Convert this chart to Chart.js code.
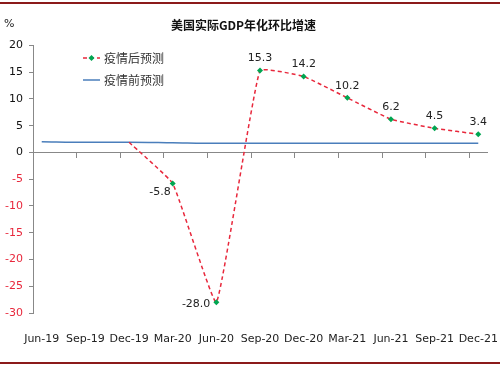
<!DOCTYPE html>
<html>
<head>
<meta charset="utf-8">
<script src="https://cdn.jsdelivr.net/npm/chart.js@4/dist/chart.umd.min.js"></script>
<style>
  body { margin: 0; background: #fff; }
  #wrap { position: relative; width: 500px; height: 367px; }
  .rule { position: absolute; left: 0; width: 500px; height: 2px; background: #8b1a1a; }
</style>
</head>
<body>
<div id="wrap">
  <canvas id="myChart" width="500" height="367"></canvas>
  <div class="rule" style="top:2px"></div>
  <div class="rule" style="top:362px"></div>
</div>
<script>
const labels = ['Jun-19', 'Sep-19', 'Dec-19', 'Mar-20', 'Jun-20', 'Sep-20', 'Dec-20', 'Mar-21', 'Jun-21', 'Sep-21', 'Dec-21'];
const afterCovid = [null, null, 1.9, -5.8, -28.0, 15.3, 14.2, 10.2, 6.2, 4.5, 3.4];
const beforeCovid = [2.0, 1.9, 1.9, 1.8, 1.7, 1.7, 1.7, 1.7, 1.7, 1.7, 1.7];
const shownLabels = [null, null, null, '-5.8', '-28.0', '15.3', '14.2', '10.2', '6.2', '4.5', '3.4'];
const yTicks = [20, 15, 10, 5, 0, -5, -10, -15, -20, -25, -30];

const RED = '#e8283c';
const BLUE = '#4a7ebb';
const GREEN = '#00a651';

const toPts = arr => arr.map((v, i) => ({ x: i, y: v })).filter(p => p.y !== null);

const ctx = document.getElementById('myChart');

const extras = {
  id: 'extras',
  afterDatasetsDraw(chart) {
    const c = chart.ctx;
    const meta = chart.getDatasetMeta(0);
    c.save();
    // value labels
    c.font = '11px "DejaVu Sans"';
    c.fillStyle = '#222';
    const pts = toPts(afterCovid);
    pts.forEach((p, k) => {
      const txt = shownLabels[p.x];
      if (!txt) return;
      const el = meta.data[k];
      c.textBaseline = 'middle';
      if (p.y < 0) {
        c.textAlign = 'right';
        if (p.y < -20) c.fillText(txt, el.x - 6, el.y + 2);
        else c.fillText(txt, el.x - 2, el.y + 9);
      } else {
        c.textAlign = 'center';
        c.fillText(txt, el.x, el.y - 12);
      }
    });
    // % unit
    c.textAlign = 'left';
    c.fillText('%', 4, 24);
    // legend
    const a = chart.chartArea;
    const lx = a.left + 50, ly1 = 58, ly2 = 80;
    c.lineWidth = 1.5;
    c.strokeStyle = RED;
    c.setLineDash([4, 3]);
    c.beginPath(); c.moveTo(lx, ly1); c.lineTo(lx + 17, ly1); c.stroke();
    c.setLineDash([]);
    c.fillStyle = GREEN;
    c.beginPath();
    c.moveTo(lx + 8.5, ly1 - 3); c.lineTo(lx + 11.5, ly1); c.lineTo(lx + 8.5, ly1 + 3); c.lineTo(lx + 5.5, ly1);
    c.closePath(); c.fill();
    c.strokeStyle = BLUE;
    c.beginPath(); c.moveTo(lx, ly2); c.lineTo(lx + 17, ly2); c.stroke();
    c.fillStyle = '#333';
    c.font = '12px "Noto Sans CJK SC"';
    c.fillText('疫情后预测', lx + 21, ly1);
    c.fillText('疫情前预测', lx + 21, ly2);
    c.restore();
  }
};

const chart = new Chart(ctx, {
  type: 'line',
  data: {
    datasets: [
      {
        label: '疫情后预测',
        data: toPts(afterCovid),
        borderColor: RED,
        borderWidth: 1.5,
        borderDash: [4, 3],
        tension: 0.1,
        pointStyle: 'rectRot',
        pointRadius: afterCovid.filter(v => v !== null).map((v, i) => i === 0 ? 0 : 3),
        pointBackgroundColor: GREEN,
        pointBorderColor: GREEN,
        pointBorderWidth: 0,
        fill: false
      },
      {
        label: '疫情前预测',
        data: toPts(beforeCovid),
        borderColor: BLUE,
        borderWidth: 1.5,
        pointRadius: 0,
        cubicInterpolationMode: 'monotone',
        fill: false
      }
    ]
  },
  options: {
    responsive: false,
    animation: false,
    layout: { padding: { left: 0, right: 13, top: 0, bottom: 0 } },
    plugins: {
      legend: { display: false },
      tooltip: { enabled: false },
      title: {
        display: true,
        text: '美国实际GDP年化环比增速',
        color: '#111',
        font: { family: '"Noto Sans CJK SC"', size: 12, weight: 'bold' },
        padding: { top: 18, bottom: 13 }
      }
    },
    scales: {
      x: {
        type: 'linear',
        position: 'bottom',
        min: -0.2,
        max: 10.2,
        grid: { display: false },
        border: { display: false },
        afterBuildTicks: s => { s.ticks = labels.map((l, i) => ({ value: i })); },
        afterFit: s => { s.height = 54; s.paddingLeft = 0; s.paddingRight = 0; },
        ticks: {
          autoSkip: false,
          maxRotation: 0,
          padding: 12,
          color: '#222',
          font: { family: '"DejaVu Sans"', size: 11 },
          callback: v => labels[v]
        }
      },
      x2: {
        type: 'linear',
        position: { y: 0 },
        min: -0.2,
        max: 10.2,
        afterBuildTicks: s => { s.ticks = labels.map((l, i) => ({ value: i - 0.2 })); },
        afterFit: s => { s.paddingLeft = 0; s.paddingRight = 0; },
        grid: { drawOnChartArea: false, drawTicks: true, tickLength: 5, color: '#888' },
        border: { display: true, color: '#888', width: 1 },
        ticks: { display: false }
      },
      y: {
        min: -30,
        max: 20,
        position: 'left',
        afterBuildTicks: s => { s.ticks = yTicks.map(v => ({ value: v })); },
        afterFit: s => { s.width = 33; },
        grid: { drawOnChartArea: false, tickLength: 4, color: '#888' },
        border: { display: true, color: '#888', width: 1 },
        ticks: {
          padding: 6,
          font: { family: '"DejaVu Sans"', size: 11 },
          color: c => (c.tick && c.tick.value < 0) ? RED : '#111'
        }
      }
    }
  },
  plugins: [extras]
});
</script>
</body>
</html>
